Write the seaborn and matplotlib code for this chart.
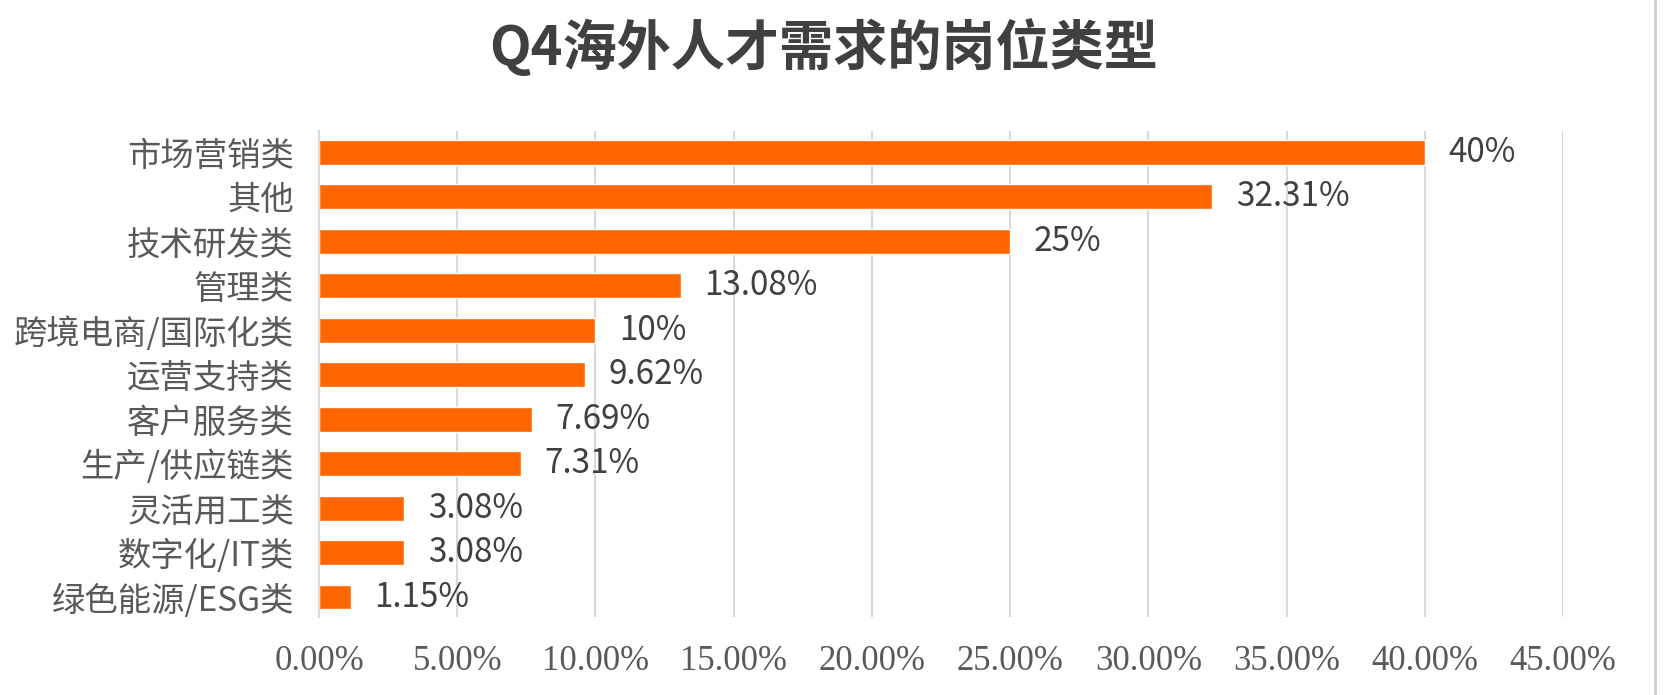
import matplotlib
matplotlib.use("Agg")
import matplotlib.pyplot as plt
from matplotlib.lines import Line2D
from matplotlib.ticker import FuncFormatter
import seaborn as sns
import pandas as pd

# data
categories = ["市场营销类", "其他", "技术研发类", "管理类", "跨境电商/国际化类",
              "运营支持类", "客户服务类", "生产/供应链类", "灵活用工类",
              "数字化/IT类", "绿色能源/ESG类"]
values = [40, 32.31, 25, 13.08, 10, 9.62, 7.69, 7.31, 3.08, 3.08, 1.15]
title = "Q4海外人才需求的岗位类型"

df = pd.DataFrame({"category": categories, "value": values})

sns.set_theme(style="white")
plt.rcParams["font.family"] = ["Noto Sans CJK SC", "DejaVu Sans"]

fig = plt.figure(figsize=(16.67, 6.95), dpi=100)
ax = fig.add_axes([0.1914, 0.1122, 0.7462, 0.6993])

sns.barplot(data=df, x="value", y="category", orient="h", color="#FF6600",
            saturation=1, width=0.56, ax=ax)

ax.set_xlim(0, 45)
ax.set_ylim(10.45, -0.48)
ax.set_xticks(range(0, 50, 5))
ax.xaxis.set_major_formatter(FuncFormatter(lambda v, p: f"{v:.2f}%"))
ax.grid(axis="x", color="#d9d9d9", linewidth=1.5)
ax.set_axisbelow(True)
for s in ["top", "right", "bottom"]:
    ax.spines[s].set_visible(False)
ax.spines["left"].set_color("#d9d9d9")
ax.spines["left"].set_linewidth(1.5)
ax.set_xlabel("")
ax.set_ylabel("")

ax.tick_params(axis="y", length=0, pad=18, labelsize=24, labelcolor="#595959")
ax.tick_params(axis="x", length=0, pad=20, labelsize=25, labelcolor="#595959")
for t in ax.get_xticklabels():
    t.set_fontfamily(["Liberation Serif", "DejaVu Serif"])

for i, v in enumerate(values):
    ax.text(v + 0.85, i, f"{v:g}%", va="center", ha="left",
            fontsize=24, color="#404040")

fig.text(0.494, 0.931, title, ha="center", va="center", fontsize=39,
         fontweight="bold", color="#404040")

fig.add_artist(Line2D([0.9928, 0.9928], [0, 1], transform=fig.transFigure,
                      color="#d0d0d0", linewidth=2))

fig.savefig("out.png", dpi=100, facecolor="white")
